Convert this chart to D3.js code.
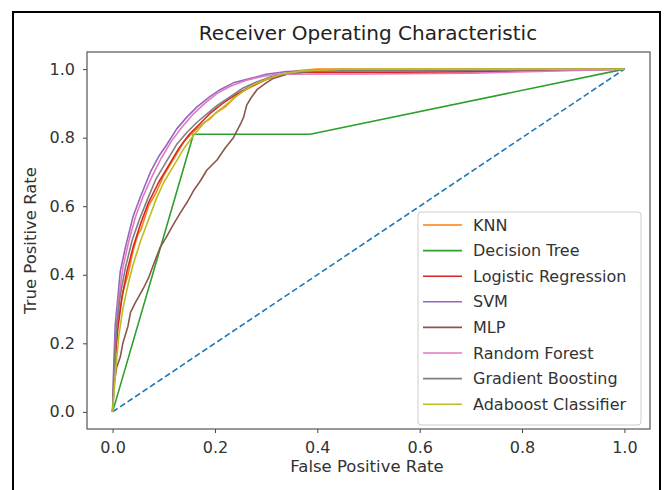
<!DOCTYPE html>
<html>
<head>
<meta charset="utf-8">
<script src="https://cdn.jsdelivr.net/npm/d3@7"></script>
<style>
  body { margin: 0; background: #fff; }
  svg { display: block; font-family: "DejaVu Sans", sans-serif; }
</style>
</head>
<body>
<svg id="chart" width="665" height="490"></svg>
<script>
// ROC curves, points as [fpr, tpr]
const diagonal = [[0, 0], [1, 1]];

const knn = [[0,0],[0.005,0.15],[0.01,0.26],[0.02,0.35],[0.03,0.4],[0.04,0.47],[0.05,0.52],[0.055,0.53],[0.07,0.6],[0.085,0.64],[0.1,0.69],[0.12,0.74],[0.14,0.79],[0.16,0.82],[0.175,0.84],[0.19,0.855],[0.2,0.87],[0.22,0.89],[0.24,0.92],[0.26,0.94],[0.28,0.955],[0.3,0.97],[0.33,0.985],[0.36,0.995],[0.4,1],[1,1]];
const decisionTree = [[0,0],[0.158,0.81],[0.386,0.81],[1,1]];
const logistic = [[0,0],[0.004,0.13],[0.01,0.24],[0.018,0.33],[0.028,0.41],[0.04,0.48],[0.055,0.55],[0.07,0.61],[0.09,0.67],[0.11,0.72],[0.13,0.77],[0.15,0.81],[0.17,0.84],[0.19,0.87],[0.215,0.9],[0.24,0.925],[0.27,0.95],[0.3,0.97],[0.33,0.983],[0.37,0.99],[0.7,0.992],[0.85,0.996],[1,1]];
const svm = [[0,0],[0.002,0.12],[0.005,0.25],[0.01,0.33],[0.015,0.41],[0.025,0.48],[0.04,0.57],[0.055,0.63],[0.074,0.7],[0.09,0.745],[0.106,0.78],[0.125,0.825],[0.145,0.86],[0.165,0.89],[0.19,0.92],[0.21,0.94],[0.236,0.96],[0.27,0.973],[0.3,0.985],[0.34,0.993],[0.4,0.996],[0.6,0.998],[1,1]];
const mlp = [[0,0],[0.003,0.08],[0.008,0.13],[0.015,0.16],[0.02,0.2],[0.03,0.25],[0.035,0.29],[0.045,0.32],[0.06,0.36],[0.07,0.39],[0.08,0.43],[0.093,0.48],[0.105,0.51],[0.12,0.55],[0.132,0.58],[0.145,0.61],[0.158,0.645],[0.172,0.675],[0.184,0.705],[0.204,0.735],[0.22,0.77],[0.236,0.8],[0.25,0.84],[0.256,0.86],[0.262,0.895],[0.27,0.915],[0.282,0.94],[0.3,0.96],[0.314,0.973],[0.34,0.985],[0.37,0.99],[0.4,0.995],[1,1]];
const randomForest = [[0,0],[0.003,0.1],[0.006,0.22],[0.012,0.33],[0.02,0.42],[0.032,0.5],[0.045,0.57],[0.06,0.63],[0.078,0.69],[0.095,0.74],[0.115,0.79],[0.135,0.83],[0.155,0.865],[0.18,0.9],[0.205,0.93],[0.23,0.95],[0.26,0.967],[0.29,0.978],[0.32,0.985],[0.5,0.986],[0.7,0.988],[0.85,0.994],[1,1]];
const gradBoost = [[0,0],[0.003,0.14],[0.008,0.25],[0.015,0.34],[0.025,0.42],[0.038,0.5],[0.052,0.56],[0.068,0.62],[0.085,0.68],[0.105,0.73],[0.125,0.78],[0.145,0.815],[0.165,0.845],[0.185,0.87],[0.205,0.895],[0.23,0.92],[0.255,0.945],[0.28,0.962],[0.31,0.978],[0.35,0.99],[0.4,0.996],[1,1]];
const adaboost = [[0,0],[0.006,0.12],[0.012,0.22],[0.02,0.3],[0.03,0.37],[0.04,0.43],[0.055,0.5],[0.07,0.56],[0.085,0.62],[0.1,0.67],[0.12,0.72],[0.14,0.77],[0.16,0.81],[0.18,0.845],[0.2,0.87],[0.225,0.9],[0.25,0.93],[0.275,0.955],[0.3,0.97],[0.33,0.985],[0.37,0.995],[0.45,1],[1,1]];

const names = ["KNN", "Decision Tree", "Logistic Regression", "SVM", "MLP", "Random Forest", "Gradient Boosting", "Adaboost Classifier"];
const colors = ["#ff7f0e", "#2ca02c", "#d62728", "#9467bd", "#8c564b", "#e377c2", "#7f7f7f", "#bcbd22"];
const seriesValues = [knn, decisionTree, logistic, svm, mlp, randomForest, gradBoost, adaboost];
const tickValues = [0, 0.2, 0.4, 0.6, 0.8, 1.0];

const svg = d3.select("#chart");

// outer black frame (the screenshot's border)
svg.append("rect")
  .attr("x", 13).attr("y", 12)
  .attr("width", 647).attr("height", 500)
  .attr("fill", "none").attr("stroke", "#000").attr("stroke-width", 2);

const plot = { left: 87, right: 650, top: 52, bottom: 429 };

const x = d3.scaleLinear().domain([-0.05, 1.05]).range([plot.left, plot.right]);
const y = d3.scaleLinear().domain([-0.05, 1.05]).range([plot.bottom, plot.top]);

const line = d3.line().x((d) => x(d[0])).y((d) => y(d[1]));

// diagonal reference
svg.append("path")
  .datum(diagonal)
  .attr("d", line)
  .attr("fill", "none")
  .attr("stroke", "#1f77b4")
  .attr("stroke-width", 1.6)
  .attr("stroke-dasharray", "6,3");

svg.append("g")
  .selectAll("path")
  .data(seriesValues)
  .join("path")
  .attr("d", line)
  .attr("fill", "none")
  .attr("stroke", (d, i) => colors[i])
  .attr("stroke-width", 1.6)
  .attr("stroke-linejoin", "round");

// axes
const fmt = d3.format(".1f");
const xAxis = svg.append("g")
  .attr("transform", `translate(0,${plot.bottom})`)
  .call(d3.axisBottom(x).tickValues(tickValues).tickFormat(fmt).tickSizeOuter(0).tickSize(4).tickPadding(9));
const yAxis = svg.append("g")
  .attr("transform", `translate(${plot.left},0)`)
  .call(d3.axisLeft(y).tickValues(tickValues).tickFormat(fmt).tickSizeOuter(0).tickSize(4).tickPadding(8));

[xAxis, yAxis].forEach((g) => {
  g.select(".domain").remove();
  g.selectAll("line").attr("stroke", "#444").attr("stroke-width", 1);
  g.selectAll("text").attr("fill", "#333").style("font-size", "16px").style("font-family", "DejaVu Sans");
});

// frame of the axes
svg.append("rect")
  .attr("x", plot.left).attr("y", plot.top)
  .attr("width", plot.right - plot.left).attr("height", plot.bottom - plot.top)
  .attr("fill", "none").attr("stroke", "#555").attr("stroke-width", 1.2);

// labels
svg.append("text")
  .attr("x", 368).attr("y", 40)
  .attr("text-anchor", "middle")
  .style("font-size", "20px").attr("fill", "#222")
  .text("Receiver Operating Characteristic");

svg.append("text")
  .attr("x", 367).attr("y", 472)
  .attr("text-anchor", "middle")
  .style("font-size", "16.5px").attr("fill", "#333")
  .text("False Positive Rate");

svg.append("text")
  .attr("transform", `translate(36,${(plot.top + plot.bottom) / 2}) rotate(-90)`)
  .attr("text-anchor", "middle")
  .style("font-size", "16.5px").attr("fill", "#333")
  .text("True Positive Rate");

// legend
const legend = svg.append("g").attr("transform", "translate(418,212)");
legend.append("rect")
  .attr("width", 223).attr("height", 213)
  .attr("rx", 3)
  .attr("fill", "#fff").attr("fill-opacity", 0.85)
  .attr("stroke", "#ccc").attr("stroke-width", 1);

const rows = legend.selectAll("g.row")
  .data(names)
  .join("g")
  .attr("class", "row")
  .attr("transform", (d, i) => `translate(0,${13 + i * 25.6})`);

rows.append("line")
  .attr("x1", 5).attr("x2", 44)
  .attr("stroke", (d, i) => colors[i])
  .attr("stroke-width", 1.6);

rows.append("text")
  .attr("x", 55).attr("dy", "0.35em")
  .style("font-size", "16px").attr("fill", "#333")
  .text((d) => d);
</script>
</body>
</html>
